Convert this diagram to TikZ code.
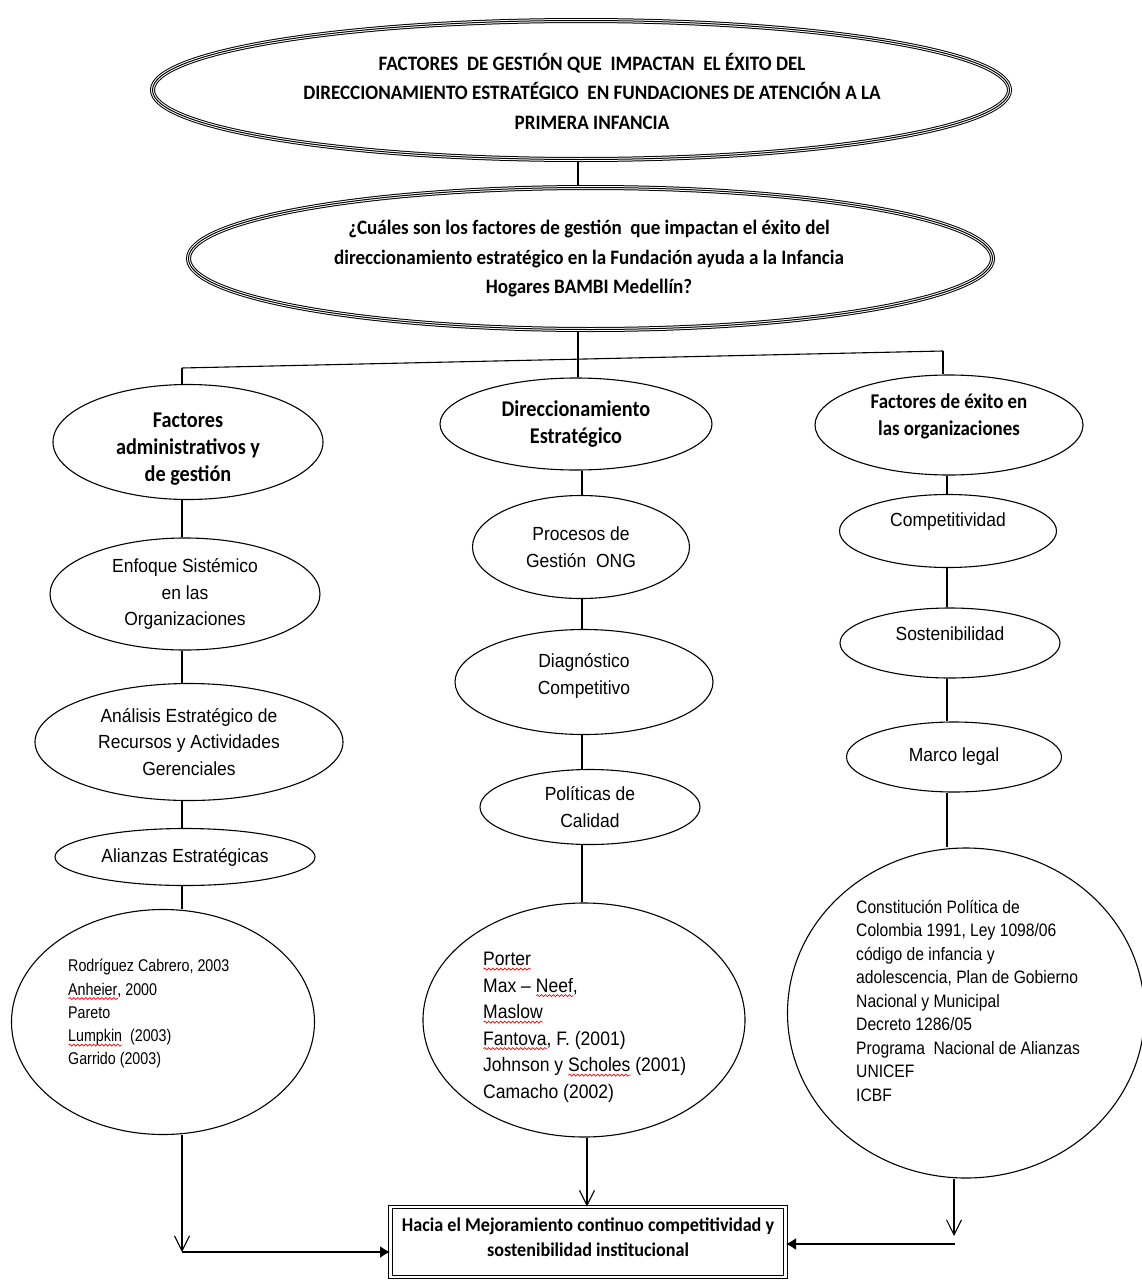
\documentclass[tikz,border=0pt]{standalone}
\usepackage{fontspec}
\setmainfont{Liberation Sans}
\newfontfamily\calb[FakeStretch=0.93]{Carlito}
\newfontfamily\calm[FakeStretch=0.9]{Carlito}
\newfontfamily\arn[FakeStretch=0.92]{Liberation Sans}
\newfontfamily\arnb[FakeStretch=0.87]{Liberation Sans}
\newfontfamily\arnc[FakeStretch=0.9]{Liberation Sans}
\newfontfamily\arnd[FakeStretch=0.84]{Liberation Sans}
\usetikzlibrary{shapes.geometric,arrows.meta,calc,decorations.pathmorphing}
\newsavebox\wbox
\newcommand\redwave[1]{\sbox\wbox{#1}\rlap{\tikz[baseline=0pt]\draw[red,line width=0.7pt,decorate,decoration={snake,amplitude=1pt,segment length=4pt}] (0pt,-3.5pt) -- (\wd\wbox,-3.5pt);}\usebox\wbox}
\tikzset{
  ell/.style={ellipse, draw, line width=1.1pt, inner sep=0pt, align=center},
  triple/.style={ellipse, inner sep=0pt, draw, line width=5pt,
    postaction={draw=white, line width=3pt},
    postaction={draw=black, line width=1pt}},
  titlefont/.style={font=\calb\bfseries\fontsize{20.5}{29.5}\selectfont},
  headfont/.style={font=\calm\bfseries\fontsize{21}{27}\selectfont},
  bigheadfont/.style={font=\calm\bfseries\fontsize{22.5}{27}\selectfont},
  txtfont/.style={font=\arn\fontsize{19}{26.5}\selectfont},
  ln/.style={line width=1.1pt},
  varr/.style={line width=1.1pt, -{Straight Barb[length=15pt,width=15pt,line width=1.1pt]}},
  farr/.style={line width=1.5pt, -{Latex[length=10pt,width=12pt]}}
}
\begin{document}
\begin{tikzpicture}[x=1pt,y=-1pt]
\useasboundingbox (0,0) rectangle (1142,1282);
% column reference coordinates
\coordinate (c1) at (182,0);
\coordinate (c2) at (578,0);
\coordinate (c2b) at (582,0);
\coordinate (c2c) at (587,0);
\coordinate (c3) at (947,0);

% title ellipses (triple border)
\node[triple, minimum width=857pt, minimum height=139pt] (ttl) at (581,90) {};
\node[titlefont, align=center] (ttlT) at (592,91) {FACTORES~ DE GESTIÓN QUE~ IMPACTAN~ EL ÉXITO DEL\\DIRECCIONAMIENTO ESTRATÉGICO~ EN FUNDACIONES DE ATENCIÓN A LA\\PRIMERA INFANCIA};

\node[triple, minimum width=804pt, minimum height=142pt] (q) at (590.5,258.5) {};
\node[titlefont, align=center] (qT) at (589,259) {¿Cuáles son los factores de gestión~ que impactan el éxito del\\direccionamiento estratégico en la Fundación ayuda a la Infancia\\Hogares BAMBI Medellín?};

% column 1
\node[ell, minimum width=270pt, minimum height=115pt] (fa) at (188,442) {};
\node[bigheadfont, align=center] (faT) at (188,449) {Factores\\administrativos y\\de gestión};
\node[ell, txtfont, minimum width=270pt, minimum height=112pt] (en) at (185,594) {Enfoque Sistémico\\en las\\Organizaciones};
\node[ell, txtfont, minimum width=308pt, minimum height=117pt] (an) at (189,742) {Análisis Estratégico de\\Recursos y Actividades\\Gerenciales};
\node[ell, txtfont, minimum width=260pt, minimum height=57pt] (al) at (185,857) {Alianzas Estratégicas};
\node[ell, minimum width=303pt, minimum height=225pt] (rc) at (163,1022) {};
\node[font=\arnd\fontsize{17}{23.3}\selectfont, align=left, anchor=north west, inner sep=0pt] (rcT) at (68,959) {Rodríguez Cabrero, 2003\\\redwave{Anheier}, 2000\\Pareto\\\redwave{Lumpkin}~ (2003)\\Garrido (2003)};

% column 2
\node[ell, bigheadfont, minimum width=272pt, minimum height=92pt] (di) at (576,424) {Direccionamiento\\Estratégico};
\node[ell, txtfont, minimum width=217pt, minimum height=103pt] (pr) at (581,547) {Procesos de\\Gestión~ ONG};
\node[ell, minimum width=258pt, minimum height=105pt] (dg) at (584,682) {};
\node[txtfont, align=center] (dgT) at (584,676) {Diagnóstico\\Competitivo};
\node[ell, txtfont, minimum width=220pt, minimum height=75pt] (po) at (590,807) {Políticas de\\Calidad};
\node[ell, minimum width=322pt, minimum height=234pt] (pm) at (584,1020) {};
\node[font=\arnc\fontsize{19.5}{26.5}\selectfont, align=left, anchor=north west, inner sep=0pt] (pmT) at (483,952) {\redwave{Porter}\\Max – \redwave{Neef},\\\redwave{Maslow}\\\redwave{Fantova}, F. (2001)\\Johnson y \redwave{Scholes} (2001)\\Camacho (2002)};

% column 3
\node[ell, minimum width=268pt, minimum height=100pt] (fe) at (949,425) {};
\node[headfont, align=center] (feT) at (949,416) {Factores de éxito en\\las organizaciones};
\node[ell, minimum width=217pt, minimum height=73pt] (co) at (948,531) {};
\node[txtfont] (coT) at (948,522) {Competitividad};
\node[ell, minimum width=220pt, minimum height=70pt] (so) at (950,643) {};
\node[txtfont] (soT) at (950,634) {Sostenibilidad};
\node[ell, txtfont, minimum width=215pt, minimum height=70pt] (ml) at (954,757) {Marco legal};
\node[ell, minimum width=357pt, minimum height=330pt] (cp) at (966,1013) {};
\node[font=\arnb\fontsize{18}{23.5}\selectfont, align=left, anchor=north west, inner sep=0pt] (cpT) at (856,900) {Constitución Política de\\Colombia 1991, Ley 1098/06\\código de infancia y\\adolescencia, Plan de Gobierno\\Nacional y Municipal\\Decreto 1286/05\\Programa~ Nacional de Alianzas\\UNICEF\\ICBF};

% bottom box
\node[draw, double, double distance=2.5pt, line width=1pt, minimum width=395pt, minimum height=70pt, inner sep=0pt] (box) at (588,1242) {};
\node[align=center, font=\calb\bfseries\fontsize{19.5}{25}\selectfont] (boxT) at (588,1237) {Hacia el Mejoramiento continuo competitividad y\\sostenibilidad institucional};

% connectors
\coordinate (bL) at (182,368);
\coordinate (bR) at (943,351);
\draw[ln] (ttl.south -| c2) -- (q.north -| c2);
\draw[ln] (q.south -| c2) -- (di.north -| c2);
\draw[ln] (bL) -- (bR);
\draw[ln] (bL) -- (bL |- fa.north);
\draw[ln] (bR) -- (bR |- fe.north);

\draw[ln] (fa.south -| c1) -- (en.north -| c1);
\draw[ln] (en.south -| c1) -- (an.north -| c1);
\draw[ln] (an.south -| c1) -- (al.north -| c1);
\draw[ln] (al.south -| c1) -- (rc.north -| c1);

\draw[ln] (di.south -| c2b) -- (pr.north -| c2b);
\draw[ln] (pr.south -| c2b) -- (dg.north -| c2b);
\draw[ln] (dg.south -| c2b) -- (po.north -| c2b);
\draw[ln] (po.south -| c2b) -- (pm.north -| c2b);

\draw[ln] (fe.south -| c3) -- (co.north -| c3);
\draw[ln] (co.south -| c3) -- (so.north -| c3);
\draw[ln] (so.south -| c3) -- (ml.north -| c3);
\draw[ln] (ml.south -| c3) -- (cp.north -| c3);

% arrows to the box
\coordinate (aL) at (182,1252);
\coordinate (aRv) at (954,1236);
\coordinate (aRh) at (955,1244);
\draw[varr] (rc.south -| c1) -- (aL);
\draw[farr] (aL) -- (aL -| box.west);
\draw[varr] (pm.south -| c2c) -- (box.north -| c2c);
\draw[varr] (cp.south -| aRv) -- (aRv);
\draw[farr] (aRh) -- (aRh -| box.east);
\end{tikzpicture}
\end{document}
